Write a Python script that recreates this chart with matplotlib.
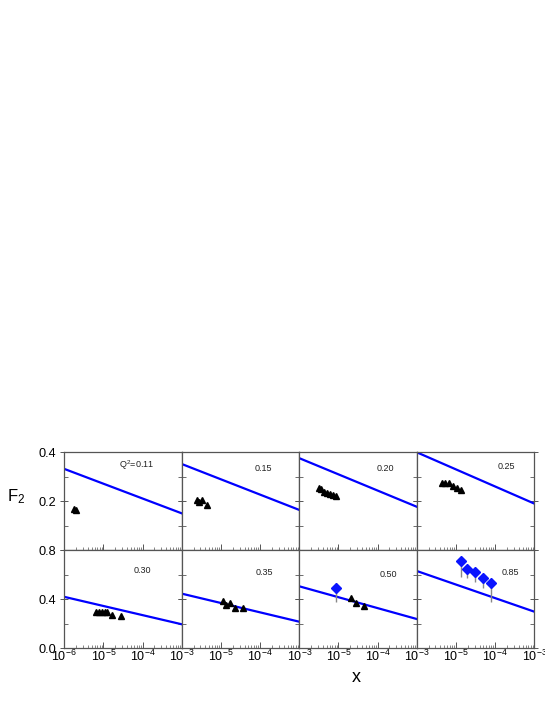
import numpy as np
import matplotlib
matplotlib.use("Agg")
import matplotlib.pyplot as plt
from matplotlib.ticker import FixedLocator, NullFormatter, LogLocator

plt.rcParams['font.family'] = ['Liberation Sans', 'DejaVu Sans']
plt.rcParams['mathtext.fontset'] = 'custom'
plt.rcParams['mathtext.rm'] = 'Liberation Sans'
plt.rcParams['mathtext.it'] = 'Liberation Sans:italic'
plt.rcParams['mathtext.bf'] = 'Liberation Sans:bold'

# ---- data ----
q2_labels = ["Q$^2$=0.11", "0.15", "0.20", "0.25", "0.30", "0.35", "0.50", "0.85"]

# model line (straight in log x): value at x=1e-6 and at x=1e-3
line_left = [0.332, 0.352, 0.376, 0.400, 0.420, 0.446, 0.506, 0.631]
line_right = [0.150, 0.164, 0.177, 0.190, 0.196, 0.217, 0.239, 0.299]

# triangle data per panel
tri_x = [
    [1.8e-6, 2.0e-6],
    [2.4e-6, 2.8e-6, 3.2e-6, 4.3e-6],
    [3.1e-6, 3.6e-6, 4.3e-6, 5.1e-6, 6.1e-6, 7.2e-6, 8.6e-6],
    [4.3e-6, 5.3e-6, 6.6e-6, 8.3e-6, 1.05e-5, 1.35e-5],
    [6.4e-6, 7.7e-6, 9.2e-6, 1.07e-5, 1.26e-5, 1.65e-5, 2.75e-5],
    [1.11e-5, 1.33e-5, 1.71e-5, 2.25e-5, 3.74e-5],
    [2.13e-5, 2.75e-5, 4.57e-5],
    [],
]
tri_y = [
    [0.169, 0.163],
    [0.205, 0.198, 0.203, 0.185],
    [0.255, 0.251, 0.238, 0.232, 0.228, 0.225, 0.223],
    [0.276, 0.276, 0.276, 0.262, 0.255, 0.246],
    [0.300, 0.300, 0.294, 0.294, 0.294, 0.274, 0.260],
    [0.386, 0.353, 0.370, 0.331, 0.326],
    [0.408, 0.370, 0.345],
    [],
]

# diamond data per panel (with asymmetric errors)
dia_x = [[], [], [], [], [], [], [8.6e-6], [1.33e-5, 1.94e-5, 3.09e-5, 4.95e-5, 7.76e-5]]
dia_y = [[], [], [], [], [], [], [0.495], [0.710, 0.645, 0.620, 0.576, 0.530]]
dia_lo = [[], [], [], [], [], [], [0.380], [0.580, 0.570, 0.544, 0.490, 0.375]]
dia_hi = [[], [], [], [], [], [], [0.530], [0.740, 0.665, 0.640, 0.596, 0.550]]

label_pos = [(0.616, 0.87), (0.695, 0.836), (0.73, 0.836), (0.766, 0.853),
             (0.664, 0.79), (0.703, 0.77), (0.757, 0.758), (0.795, 0.775)]

xlim = (1e-6, 1e-3)
fig = plt.figure(figsize=(5.45, 7.05), dpi=100)

left0 = 64.3 / 545
pw = 117.5 / 545
rows = [(1 - 550.0 / 705, 97.7 / 705), (1 - 648.3 / 705, 98.0 / 705)]
ylims = [(0.0, 0.4), (0.0, 0.8)]

for i in range(8):
    r, c = divmod(i, 4)
    bottom, h = rows[r]
    ax = fig.add_axes([left0 + c * pw, bottom, pw, h])
    ax.set_xscale('log')
    ax.set_xlim(*xlim)
    ax.set_ylim(*ylims[r])
    for s in ax.spines.values():
        s.set_color('#555555')
        s.set_linewidth(0.9)

    # model line
    ax.plot(list(xlim), [line_left[i], line_right[i]], color='#0000ff', lw=1.6, zorder=2)

    # triangles
    if tri_x[i]:
        ax.plot(tri_x[i], tri_y[i], linestyle='none', marker='^', color='black',
                markersize=4.5, zorder=4)
    # diamonds with error bars
    if dia_x[i]:
        yy = np.array(dia_y[i])
        yerr = [yy - np.array(dia_lo[i]), np.array(dia_hi[i]) - yy]
        ax.errorbar(dia_x[i], yy, yerr=yerr, fmt='none', ecolor='#888888',
                    elinewidth=1.0, capsize=0, zorder=3)
        ax.plot(dia_x[i], yy, linestyle='none', marker='D', color='#0a14ff',
                markersize=5.2, zorder=5)

    ax.text(label_pos[i][0], label_pos[i][1], q2_labels[i], transform=ax.transAxes,
            ha='center', va='center', fontsize=6.5, color='#222222')

    # y ticks
    if r == 0:
        ax.yaxis.set_major_locator(FixedLocator([0.0, 0.2, 0.4]))
        ax.yaxis.set_minor_locator(FixedLocator([0.1, 0.3]))
        ylabels = ['', '0.2', '0.4']
    else:
        ax.yaxis.set_major_locator(FixedLocator([0.0, 0.4, 0.8]))
        ax.yaxis.set_minor_locator(FixedLocator([0.2, 0.6]))
        ylabels = ['0.0', '0.4', '0.8']
    if c == 0:
        ax.set_yticklabels(ylabels)
    else:
        ax.set_yticklabels([])
    ax.tick_params(axis='y', which='major', direction='inout', length=6, width=0.7,
                   left=True, right=True, labelsize=9.2, color='#555555', pad=3)
    ax.tick_params(axis='y', which='minor', direction='in', length=3, width=0.6,
                   left=True, right=True, color='#555555')

    # x ticks
    ax.xaxis.set_major_locator(FixedLocator([1e-6, 1e-5, 1e-4, 1e-3]))
    ax.xaxis.set_minor_locator(LogLocator(base=10, subs=np.arange(2, 10), numticks=20))
    ax.xaxis.set_minor_formatter(NullFormatter())
    if r == 1:
        if c == 0:
            ax.set_xticklabels(['10$^{-6}$', '10$^{-5}$', '10$^{-4}$', '10$^{-3}$'])
        else:
            ax.set_xticklabels(['', '10$^{-5}$', '10$^{-4}$', '10$^{-3}$'])
    else:
        ax.set_xticklabels([])
    ax.tick_params(axis='x', which='major', direction='in', length=4, width=0.7,
                   labelsize=9, color='#555555', pad=0.5)
    ax.tick_params(axis='x', which='minor', direction='in', length=2.5, width=0.5,
                   color='#555555')

fig.text(7 / 545, 1 - 497 / 705, 'F$_2$', fontsize=12, ha='left', va='center')
fig.text(356.5 / 545, 1 - 677 / 705, 'x', fontsize=13, ha='center', va='center')

fig.savefig('out.png', dpi=100)
